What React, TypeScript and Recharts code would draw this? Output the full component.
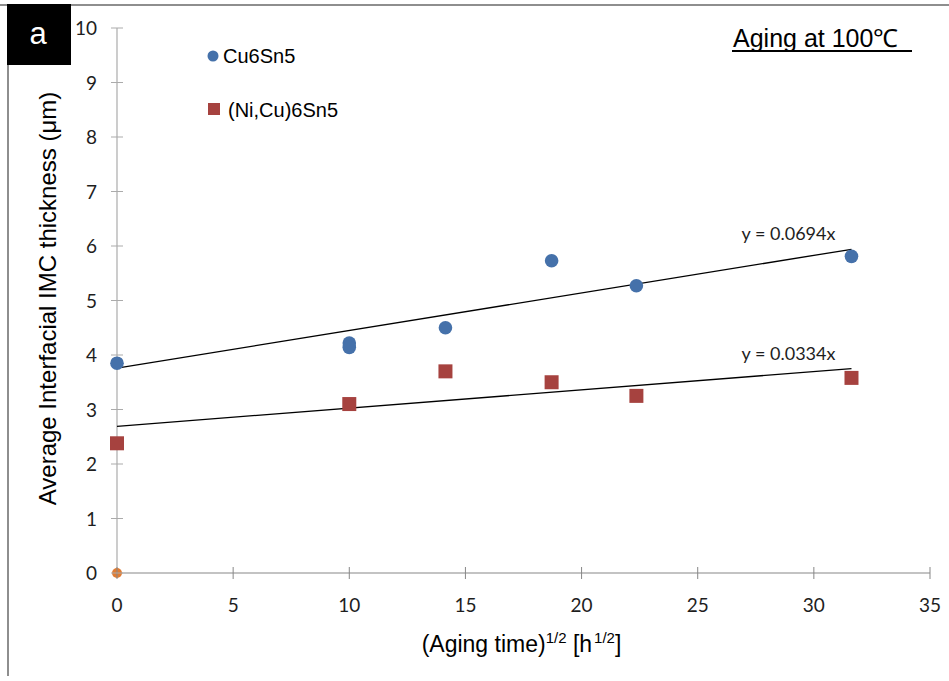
import React from "react";
import {
  ScatterChart,
  Scatter,
  XAxis,
  YAxis,
  ReferenceDot,
} from "recharts";

// sqrt(aging time) in h^1/2 and measured IMC thickness in µm
const cuTime = [0, 10, 10, 14.14, 18.71, 22.36, 31.62];
const cuThickness = [3.85, 4.22, 4.14, 4.5, 5.73, 5.27, 5.81];
const niTime = [0, 10, 14.14, 18.71, 22.36, 31.62];
const niThickness = [2.38, 3.1, 3.7, 3.5, 3.25, 3.58];
const originTime = [0];
const originThickness = [0];

// Excel trend lines (end points)
const trendTime = [0, 31.62];
const cuTrend = [3.76, 5.94];
const niTrend = [2.69, 3.75];
const cuTrendLabel = "y = 0.0694x";
const niTrendLabel = "y = 0.0334x";

const xTicks = [0, 5, 10, 15, 20, 25, 30, 35];
const yTicks = [0, 1, 2, 3, 4, 5, 6, 7, 8, 9, 10];

const BLUE = "#4571aa";
const RED = "#a6423f";
const ORANGE = "#e07c34";
const X_AXIS_GRAY = "#878787";
const Y_AXIS_GRAY = "#ababab";
const TICK_FONT = "Lato, 'Open Sans', sans-serif";
const ARIAL = "'Liberation Sans', Arial, sans-serif";

const pairs = (xs: number[], ys: number[]) => xs.map((x, i) => ({ x, y: ys[i] }));

const cuData = pairs(cuTime, cuThickness);
const niData = pairs(niTime, niThickness);
const originData = pairs(originTime, originThickness);
const cuTrendData = pairs(trendTime, cuTrend);
const niTrendData = pairs(trendTime, niTrend);

const TICK_SIZE = 6;
const Y_TICK_MARGIN = 14;
const X_TICK_MARGIN = 10;

const YTick = (props: any) => {
  const { x, y, payload } = props;
  const axisX = x + TICK_SIZE + Y_TICK_MARGIN;
  return (
    <g>
      <line x1={axisX - 6} x2={axisX + 6} y1={y} y2={y} stroke={Y_AXIS_GRAY} />
      <text x={x} y={y + 7} textAnchor="end" fontFamily={TICK_FONT} fontSize={19} fill="#1e1e1e">
        {payload.value}
      </text>
    </g>
  );
};

const XTick = (props: any) => {
  const { x, y, payload } = props;
  const axisY = y - TICK_SIZE - X_TICK_MARGIN;
  return (
    <g>
      <line x1={x} x2={x} y1={axisY - 6} y2={axisY + 6} stroke={X_AXIS_GRAY} />
      <text x={x} y={y + 23} textAnchor="middle" fontFamily={TICK_FONT} fontSize={19} fill="#1e1e1e">
        {payload.value}
      </text>
    </g>
  );
};

const circleShape = (props: any) => (
  <circle cx={props.cx} cy={props.cy} r={6.8} fill={BLUE} />
);
const squareShape = (props: any) => (
  <rect x={props.cx - 7} y={props.cy - 7} width={14} height={14} fill={RED} />
);
const originShape = (props: any) => (
  <circle cx={props.cx} cy={props.cy} r={5} fill={ORANGE} />
);
const noShape = () => <g />;

const trendLabel = (text: string) => (p: any) => (
  <text
    x={p.viewBox.x - 16}
    y={p.viewBox.y - 9}
    textAnchor="end"
    fontFamily={TICK_FONT}
    fontSize={18}
    fill="#1e1e1e"
  >
    {text}
  </text>
);

export default function App() {
  return (
    <div style={{ position: "absolute", left: 0, top: 0, width: 949, height: 681, background: "#fff" }}>
      <ScatterChart
        width={949}
        height={681}
        margin={{ top: 28, right: 19, bottom: 68, left: 57 }}
      >
        <XAxis
          type="number"
          dataKey="x"
          domain={[0, 35]}
          ticks={xTicks}
          interval={0}
          height={40}
          axisLine={{ stroke: X_AXIS_GRAY, strokeWidth: 1.2 }}
          tickLine={false}
          tickSize={TICK_SIZE}
          tickMargin={X_TICK_MARGIN}
          tick={<XTick />}
          label={{
            content: (p: any) => (
              <text
                x={p.viewBox.x + p.viewBox.width / 2 - 2}
                y={p.viewBox.y + 79}
                textAnchor="middle"
                fontFamily={ARIAL}
                fontSize={23}
                fill="#000"
              >
                (Aging time)
                <tspan fontSize={15} dy={-9}>1/2</tspan>
                <tspan dy={9}> [h</tspan>
                <tspan fontSize={15} dy={-9} dx={2}>1/2</tspan>
                <tspan dy={9}>]</tspan>
              </text>
            ),
          }}
        />
        <YAxis
          type="number"
          dataKey="y"
          domain={[0, 10]}
          ticks={yTicks}
          interval={0}
          width={60}
          axisLine={{ stroke: Y_AXIS_GRAY, strokeWidth: 1.2 }}
          tickLine={false}
          tickSize={TICK_SIZE}
          tickMargin={Y_TICK_MARGIN}
          tick={<YTick />}
          label={{
            content: (p: any) => {
              const cx = 56;
              const cy = p.viewBox.y + p.viewBox.height / 2 - 2;
              return (
                <text
                  x={cx}
                  y={cy}
                  transform={`rotate(-90, ${cx}, ${cy})`}
                  textAnchor="middle"
                  fontFamily={ARIAL}
                  fontSize={24}
                  fill="#000"
                >
                  Average Interfacial IMC thickness (μm)
                </text>
              );
            },
          }}
        />
        <Scatter
          name="cuTrend"
          data={cuTrendData}
          line={{ stroke: "#000", strokeWidth: 1.3 }}
          shape={noShape}
          legendType="none"
          isAnimationActive={false}
        />
        <Scatter
          name="niTrend"
          data={niTrendData}
          line={{ stroke: "#000", strokeWidth: 1.3 }}
          shape={noShape}
          legendType="none"
          isAnimationActive={false}
        />
        <Scatter name="Cu6Sn5" data={cuData} shape={circleShape} isAnimationActive={false} />
        <Scatter name="(Ni,Cu)6Sn5" data={niData} shape={squareShape} isAnimationActive={false} />
        <Scatter name="origin" data={originData} shape={originShape} legendType="none" isAnimationActive={false} />
        <ReferenceDot
          x={trendTime[1]}
          y={cuTrend[1]}
          r={0}
          stroke="none"
          fill="none"
          label={{ content: trendLabel(cuTrendLabel) }}
        />
        <ReferenceDot
          x={trendTime[1]}
          y={niTrend[1]}
          r={0}
          stroke="none"
          fill="none"
          label={{ content: trendLabel(niTrendLabel) }}
        />
      </ScatterChart>
      <svg
        width={949}
        height={681}
        style={{ position: "absolute", left: 0, top: 0, pointerEvents: "none" }}
      >
        <line x1={0} x2={949} y1={5} y2={5} stroke="#8e8e8e" strokeWidth={2} />
        <line x1={8} x2={8} y1={4} y2={676} stroke="#8e8e8e" strokeWidth={2} />
        <rect x={7} y={4} width={64} height={61} fill="#000" />
        <text x={38} y={44} textAnchor="middle" fontFamily={ARIAL} fontSize={31} fill="#fff">
          a
        </text>
        <text x={733} y={47} fontFamily={ARIAL} fontSize={25} fill="#000">
          Aging at 100℃
        </text>
        <line x1={732} x2={912} y1={51} y2={51} stroke="#000" strokeWidth={2} />
        {/* legend */}
        <circle cx={213} cy={56} r={5.5} fill={BLUE} />
        <text x={223} y={63} fontFamily={ARIAL} fontSize={20} fill="#000">
          Cu6Sn5
        </text>
        <rect x={208} y={103} width={12} height={12} fill={RED} />
        <text x={228} y={117} fontFamily={ARIAL} fontSize={20} fill="#000">
          (Ni,Cu)6Sn5
        </text>
      </svg>
    </div>
  );
}
